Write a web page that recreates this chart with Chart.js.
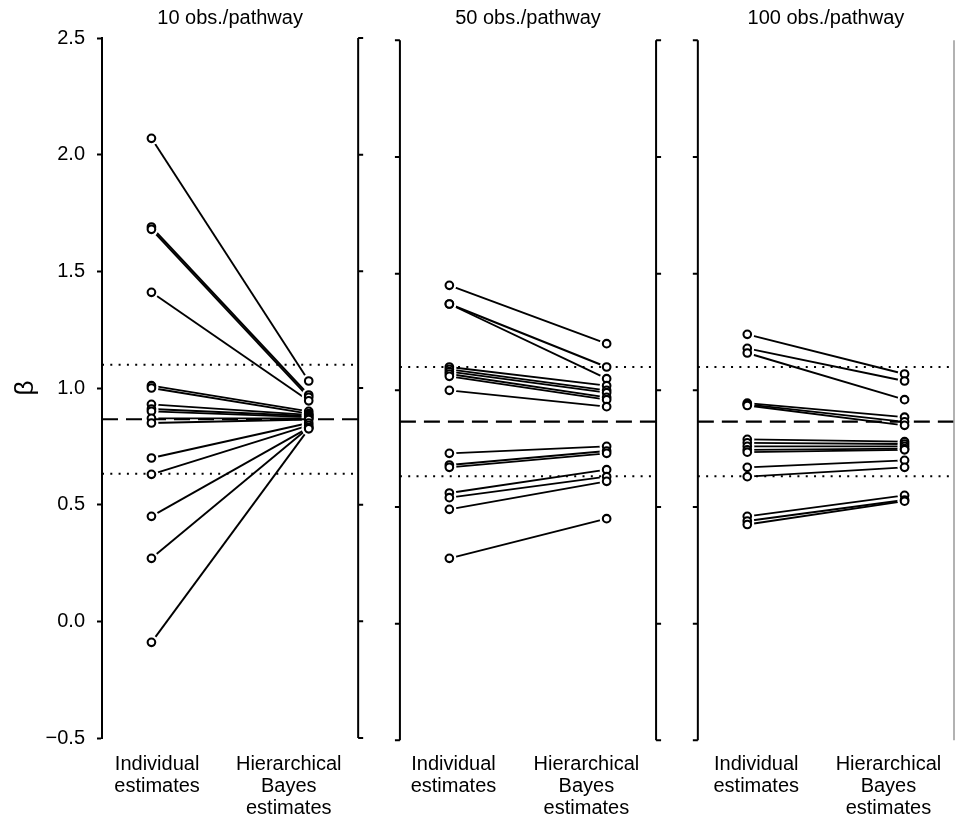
<!DOCTYPE html>
<html>
<head>
<meta charset="utf-8">
<script src="https://cdn.jsdelivr.net/npm/chart.js@4"></script>
<style>
  html, body { margin: 0; padding: 0; background: #fff; }
  #wrap { position: relative; width: 961px; height: 818px; }
</style>
</head>
<body>
<div id="wrap"><canvas id="chart"></canvas></div>
<script>
// --- data ---
const panelTitles = ['10 obs./pathway', '50 obs./pathway', '100 obs./pathway'];
const methodLabels = [['Individual', 'estimates'], ['Hierarchical', 'Bayes', 'estimates']];
const yTicks = [-0.5, 0, 0.5, 1.0, 1.5, 2.0, 2.5];

const indiv10 = [2.07, 1.69, 1.68, 1.41, 1.01, 1.00, 0.93, 0.91, 0.90, 0.87, 0.85, 0.70, 0.63, 0.45, 0.27, -0.09];
const bayes10 = [1.03, 0.97, 0.96, 0.945, 0.90, 0.89, 0.885, 0.88, 0.875, 0.87, 0.865, 0.85, 0.84, 0.83, 0.83, 0.825];

const indiv50 = [1.45, 1.37, 1.37, 1.10, 1.09, 1.08, 1.07, 1.06, 1.00, 0.73, 0.68, 0.67, 0.56, 0.54, 0.49, 0.28];
const bayes50 = [1.20, 1.10, 1.05, 1.02, 1.00, 0.99, 0.97, 0.96, 0.93, 0.76, 0.74, 0.73, 0.66, 0.63, 0.61, 0.45];

const indiv100 = [1.24, 1.18, 1.16, 0.945, 0.94, 0.935, 0.79, 0.775, 0.76, 0.745, 0.735, 0.67, 0.63, 0.46, 0.44, 0.425];
const bayes100 = [1.07, 1.04, 0.96, 0.885, 0.865, 0.85, 0.78, 0.77, 0.76, 0.75, 0.745, 0.70, 0.67, 0.55, 0.53, 0.525];

const popMean = 0.866;          // dashed line
const popBand = [0.632, 1.10];  // dotted lines

// --- layout (x in panel units: each panel is 1 wide) ---
const panelLeft = [0, 1.163, 2.326];
const xIndiv = 0.193, xBayes = 0.807;
const xTickPos = [0.215, 0.729, 1.372, 1.891, 2.554, 3.07];

const panels = [
  { title: panelTitles[0], indiv: indiv10, bayes: bayes10, axis: 'y' },
  { title: panelTitles[1], indiv: indiv50, bayes: bayes50, axis: 'y2' },
  { title: panelTitles[2], indiv: indiv100, bayes: bayes100, axis: 'y2' }
];

const FONT = '"Liberation Sans", Arial, Helvetica, sans-serif';
Chart.defaults.font.family = FONT;
Chart.defaults.color = '#000';

const datasets = [];
panels.forEach((p, k) => {
  const x0 = panelLeft[k];
  // connecting lines
  p.indiv.forEach((v, i) => {
    datasets.push({
      type: 'line', yAxisID: p.axis, order: 4,
      data: [{ x: x0 + xIndiv, y: v }, { x: x0 + xBayes, y: p.bayes[i] }],
      borderColor: '#000', borderWidth: 1.9, pointRadius: 0, fill: false, tension: 0
    });
  });
  const pts = p.indiv.map(v => ({ x: x0 + xIndiv, y: v }))
    .concat(p.bayes.map(v => ({ x: x0 + xBayes, y: v })));
  // white halo so lines stop short of the circles
  datasets.push({
    type: 'scatter', yAxisID: p.axis, order: 3, data: pts,
    pointRadius: 7, pointBackgroundColor: '#fff', pointBorderColor: '#fff', pointBorderWidth: 0
  });
  // reference lines
  datasets.push({
    type: 'line', yAxisID: p.axis, order: 2,
    data: [{ x: x0, y: popMean }, { x: x0 + 1, y: popMean }],
    borderColor: '#000', borderWidth: 2.2, borderDash: [16, 8], pointRadius: 0, fill: false
  });
  popBand.forEach(b => {
    datasets.push({
      type: 'line', yAxisID: p.axis, order: 2,
      data: [{ x: x0, y: b }, { x: x0 + 1, y: b }],
      borderColor: '#000', borderWidth: 2, borderDash: [2, 6.3], pointRadius: 0, fill: false
    });
  });
  // open circles
  datasets.push({
    type: 'scatter', yAxisID: p.axis, order: 1, data: pts,
    pointRadius: 3.8, pointBackgroundColor: '#fff', pointBorderColor: '#000', pointBorderWidth: 2.1
  });
});

function fmt(v) {
  return (v < 0 ? '\u2212' : '') + Math.abs(v).toFixed(1);
}

// panel titles and the bracket axes of panels 2 and 3
const panelDecor = {
  id: 'panelDecor',
  afterDraw(chart) {
    const ctx = chart.ctx;
    const xs = chart.scales.x;
    ctx.save();
    panels.forEach((p, k) => {
      const ys = chart.scales[p.axis];
      const xl = xs.getPixelForValue(panelLeft[k]);
      const xr = xs.getPixelForValue(panelLeft[k] + 1);

      ctx.fillStyle = '#000';
      ctx.font = '20px ' + FONT;
      ctx.textAlign = 'center';
      ctx.textBaseline = 'middle';
      ctx.fillText(p.title, (xl + xr) / 2, 18);

      const top = ys.getPixelForValue(2.5);
      const bot = ys.getPixelForValue(-0.5);
      ctx.strokeStyle = '#000';
      ctx.lineWidth = 2;
      const bracket = (x, dir) => {
        ctx.beginPath();
        ctx.moveTo(x, top);
        ctx.lineTo(x, bot);
        yTicks.forEach(t => {
          const y = ys.getPixelForValue(t);
          ctx.moveTo(x, y);
          ctx.lineTo(x + dir * 5, y);
        });
        ctx.stroke();
      };
      if (k > 0) bracket(xl, -1);
      if (k < panels.length - 1) {
        bracket(xr, 1);
      } else {
        ctx.strokeStyle = '#999';
        ctx.lineWidth = 1.5;
        ctx.beginPath();
        ctx.moveTo(xr, top);
        ctx.lineTo(xr, bot);
        ctx.stroke();
      }
    });
    ctx.restore();
  }
};

new Chart(document.getElementById('chart').getContext('2d'), {
  type: 'scatter',
  data: { datasets: datasets },
  options: {
    responsive: true,
    maintainAspectRatio: false,
    animation: false,
    events: [],
    layout: { padding: { top: 38, right: 1, bottom: 0, left: 0 } },
    plugins: { legend: { display: false }, tooltip: { enabled: false } },
    scales: {
      x: {
        type: 'linear', position: 'bottom', min: 0, max: 3.326,
        grid: { display: false, drawTicks: false },
        border: { display: false },
        afterBuildTicks: s => { s.ticks = xTickPos.map(v => ({ value: v })); },
        afterFit: s => { s.height = 80; },
        ticks: {
          autoSkip: false, maxRotation: 0, minRotation: 0, padding: 15,
          color: '#000', font: { size: 20, lineHeight: 1.1 },
          callback: (v, i) => methodLabels[i % 2]
        }
      },
      y: {
        position: 'left', min: -0.5, max: 2.5,
        afterBuildTicks: s => { s.ticks = yTicks.map(v => ({ value: v })); },
        afterFit: s => { s.width = 102; },
        grid: { drawOnChartArea: false, tickLength: 5, tickWidth: 2, color: '#000' },
        border: { color: '#000', width: 2 },
        ticks: { padding: 12, color: '#000', font: { size: 20 }, callback: v => fmt(v) },
        title: { display: true, text: 'β', color: '#000', font: { size: 26 }, padding: { top: 10 } }
      },
      y2: { display: false, min: -0.49, max: 2.51 }
    }
  },
  plugins: [panelDecor]
});
</script>
</body>
</html>
